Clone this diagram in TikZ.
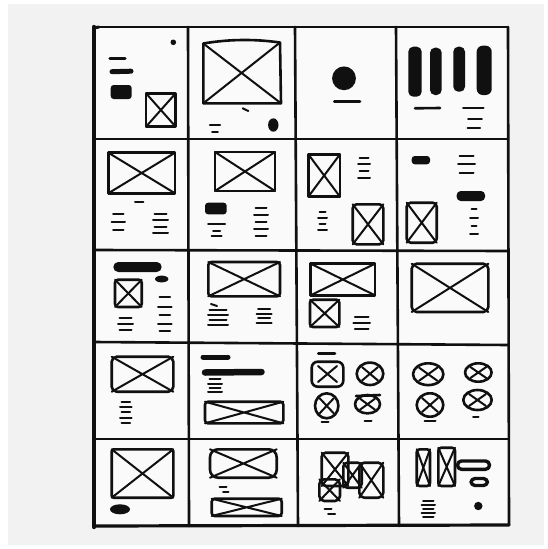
\documentclass[tikz,border=0pt]{standalone}
\usepackage{xcolor}
\usepackage{tikz}
\usetikzlibrary{calc}
\definecolor{PaperGray}{HTML}{F2F2F2}
\definecolor{SheetWhite}{HTML}{FAFAFA}
\definecolor{Ink}{HTML}{101010}

% placeholder image: box with a cross
\newcommand\xbox[5][]{%
  \draw[sketch,#1] (#2,#3) rectangle (#4,#5);
  \draw[sketch,thin line] (#2,#3) -- (#4,#5) (#2,#5) -- (#4,#3);}
% round placeholder
\newcommand\xcirc[4]{%
  \draw[sketch] (#1,#2) ellipse (#3 and #4);
  \draw[sketch,thin line] ($(#1,#2)+(-0.6*#3,-0.6*#4)$) -- ($(#1,#2)+(0.6*#3,0.6*#4)$)
    ($(#1,#2)+(-0.6*#3,0.6*#4)$) -- ($(#1,#2)+(0.6*#3,-0.6*#4)$);}
% stack of text strokes, every other one a bit shorter
\newcommand\txtlines[3]{\foreach \yy [count=\i] in {#3} {%
  \pgfmathsetmacro\dd{mod(\i,2)*1.5}
  \draw[txt] (#1+\dd,\yy) -- (#2-\dd,\yy);}}

\begin{document}
\begin{tikzpicture}[
  x=1pt, y=-1pt,
  grid/.style={Ink,line width=2.6pt,line cap=round},
  sketch/.style={Ink,line width=2.6pt,line join=round,line cap=round},
  thin line/.style={line width=2pt},
  txt/.style={Ink,line width=2pt,line cap=round},
  blob/.style={Ink,line width=5pt,line cap=round},
  solid/.style={fill=Ink,rounded corners=3pt}
]
  \useasboundingbox (0,0) rectangle (548,549);
  \fill[white] (0,0) rectangle (548,549);
  \fill[PaperGray] (8,4) rectangle (544,545);
  \fill[SheetWhite] (94,27) rectangle (508,526);

  % grid
  \draw[grid,line width=1.8pt] (94,27) -- (508,27);
  \draw[grid] (94,139) -- (508,139);
  \draw[grid] (94,250) -- (508,251);
  \draw[grid] (94,342) -- (508,345);
  \draw[grid] (94,439) -- (508,439);
  \draw[grid,line width=3.2pt] (94,526) -- (509,525);
  \draw[grid] (188,27) -- (189,526);
  \draw[grid] (295,27) -- (298,526);
  \draw[grid] (396,27) -- (399,526);
  \draw[grid] (508,27) -- (509,525);
  \draw[grid,line width=4.4pt] (94,27) -- (94,527);
  \draw[grid,line width=3pt] (94,28) -- (99,27);

  % row 1
  \fill[Ink] (173.3,42.3) circle (2.8);
  \draw[blob,line width=3.4pt] (110,58.3) -- (125,58.3);
  \draw[blob] (112,71.7) -- (131,71.2);
  \fill[solid] (110.7,85) rectangle (131.7,99);
  \xbox{146}{93.3}{175.7}{126.7}

  \draw[sketch] (203.3,103.3) -- (203.3,43.5) .. controls (230,39) and (255,39) .. (280,42.5) -- (281,103.3) -- cycle;
  \draw[sketch,thin line] (203.3,43.5) -- (281,103.3) (203.3,103.3) -- (280,42.5);
  \draw[txt] (242.7,108.3) -- (248.3,111);
  \txtlines{208.3}{221.7}{125}
  \txtlines{210.7}{219.3}{131.7}
  \fill[Ink] (273.3,125) ellipse (5.2 and 6.7);

  \fill[Ink] (344,78.3) circle (11.9);
  \draw[sketch] (334.3,101.7) -- (360,101.7);

  \fill[solid,rounded corners=5pt] (408.3,46.7) rectangle (421.7,96.7);
  \fill[solid,rounded corners=5pt] (430,47.7) rectangle (441.7,95);
  \fill[solid,rounded corners=5pt] (453.3,46.7) rectangle (465,91.7);
  \fill[solid,rounded corners=6pt] (476.7,45.7) rectangle (491.7,95);
  \draw[sketch] (415,108.3) -- (440,108);
  \txtlines{461.7}{485}{108.3}
  \txtlines{466.7}{483.3}{119.3}
  \txtlines{466}{481.7}{128.3}

  % row 2
  \xbox{108.3}{152.7}{175}{193.3}
  \draw[txt] (135,202) -- (143.3,202);
  \txtlines{111.7}{125}{214.3,221.7,230}
  \txtlines{153}{168}{214,220,226.7,233.3}

  \xbox{215}{152}{275}{191}
  \fill[solid] (205,202.7) rectangle (226.7,214.3);
  \txtlines{206.7}{226.7}{224.3}
  \txtlines{211.7}{221.7}{231,236}
  \txtlines{254}{268}{207.7,214.7,221.7,228.7,236}

  \xbox{308.3}{154.3}{340}{196.7}
  \txtlines{358}{370}{157.7,164.3,171,177.7}
  \txtlines{318}{327}{212,218,224,230}
  \xbox[rounded corners=4pt]{352.7}{204.3}{383.3}{244.3}

  \fill[solid] (411.7,156) rectangle (430,164.3);
  \txtlines{458}{475}{156,164,172.7}
  \fill[solid,rounded corners=4pt] (456.7,191) rectangle (485,201);
  \txtlines{470}{478}{209.3,217.7,226,234.3}
  \xbox[rounded corners=4pt]{406.7}{202.7}{436.7}{242.7}

  % row 3
  \fill[solid,rounded corners=5pt] (113.3,262) rectangle (161.7,272);
  \fill[Ink] (161.7,279) ellipse (6.7 and 3.4);
  \xbox[rounded corners=3pt]{115}{279.7}{141.7}{307}
  \txtlines{158}{171.7}{297,307,315.3,323.7,331}
  \txtlines{118}{133}{317.7,323.7,330.3}

  \xbox[rounded corners=3pt]{208.3}{262}{280}{296.3}
  \draw[txt] (211,304) -- (217,306);
  \txtlines{208}{228}{310,315,320,325}
  \txtlines{256.7}{271.7}{308.7,313.5,318.3,323}

  \xbox{310.7}{263.7}{375}{295.3}
  \xbox[rounded corners=3pt]{310}{299.7}{339.3}{327}
  \txtlines{353.3}{370}{317,323,328.7}

  \xbox[rounded corners=5pt]{411.7}{263.7}{488.3}{312}

  % row 4
  \xbox[rounded corners=5pt]{111.7}{356.7}{173.3}{391.7}
  \txtlines{120}{131.7}{401.7,407,412,417.5,422.7}

  \draw[blob] (203,357) -- (228,357);
  \draw[blob,line width=6.5pt] (205,372.5) -- (261.5,372);
  \txtlines{208}{222}{379.3,383.5,387.6,391.7}
  \xbox[rounded corners=3pt]{205}{401.7}{283.3}{423.3}

  \draw[txt,line width=2.6pt] (318.3,353.3) -- (335,353.3);
  \draw[sketch,rounded corners=6pt] (311.7,361.7) rectangle (343.3,386.7);
  \draw[sketch,thin line] (318,366) -- (337,382) (318,382) -- (337,366);
  \xcirc{370}{373.8}{13.3}{11.2}
  \xcirc{326.7}{405.8}{11.7}{12.5}
  \xcirc{367.5}{404.2}{12.5}{9.2}
  \draw[sketch] (356,396) -- (380,395);
  \txtlines{320}{330}{421.7}
  \txtlines{363}{373}{421}

  \xcirc{428.2}{374.2}{15.2}{10.9}
  \xcirc{478.3}{372.5}{13.3}{9.2}
  \xcirc{430}{405}{13.3}{11.7}
  \xcirc{477.5}{400}{14.2}{10}
  \txtlines{423}{437}{421}
  \txtlines{471.7}{480}{417.3}

  % row 5
  \xbox[rounded corners=2pt]{111.7}{449.3}{173.3}{497.7}
  \fill[Ink] (120,509.3) ellipse (10 and 5);

  \xbox[rounded corners=8pt]{210}{449.3}{276.7}{477.7}
  \txtlines{218}{228}{486.7}
  \txtlines{221.7}{230}{492}
  \xbox[rounded corners=3pt]{211.7}{498.7}{281.7}{516}

  \xbox[rounded corners=4pt]{321.7}{452.7}{348.3}{486}
  \xbox[rounded corners=4pt]{343.3}{462.7}{361.7}{487.7}
  \xbox[rounded corners=5pt]{359.3}{462.7}{383.3}{497.7}
  \xbox[rounded corners=5pt]{319.3}{479.3}{340}{501}
  \txtlines{323}{333}{508.7}
  \txtlines{326.7}{336.7}{514.3}

  \xbox[rounded corners=3pt]{416.7}{449.3}{430}{486}
  \xbox[rounded corners=3pt]{438.3}{447.7}{455}{486}
  \draw[sketch,line width=3.4pt,rounded corners=4pt] (457.5,461) rectangle (489.5,469.3);
  \draw[sketch,line width=3.4pt,rounded corners=4pt] (471,478.5) rectangle (487.5,485.5);
  \fill[Ink] (478.3,506) circle (4.2);
  \txtlines{421.7}{435}{501,505,509,513,516.7}
\end{tikzpicture}
\end{document}
